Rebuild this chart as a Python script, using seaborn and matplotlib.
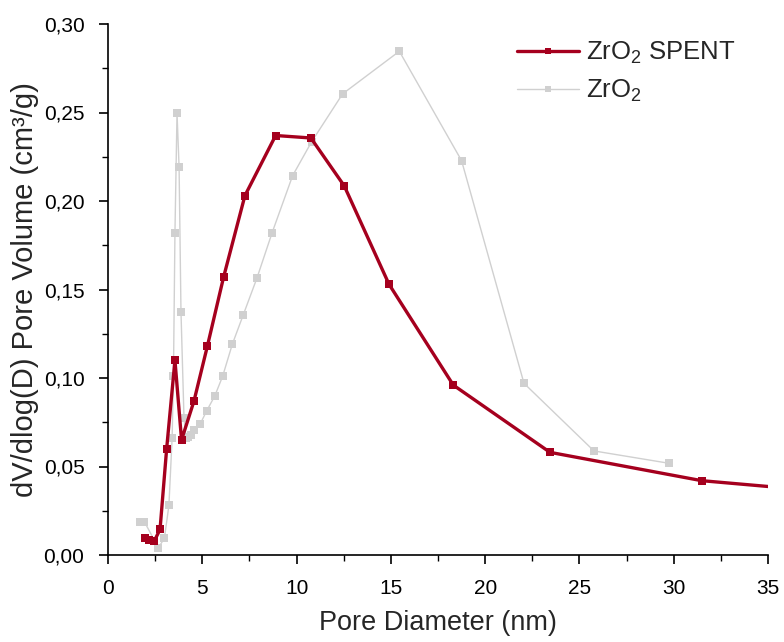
import matplotlib
matplotlib.use("Agg")
import matplotlib.pyplot as plt
import seaborn as sns
import pandas as pd
from matplotlib.ticker import MultipleLocator, FuncFormatter

# --- data ---
spent_d = [1.96, 2.2, 2.45, 2.76, 3.11, 3.55, 3.9, 4.56, 5.27, 6.13, 7.26, 8.89,
           10.76, 12.53, 14.9, 18.31, 23.44, 31.48, 39.5]
spent_v = [0.0095, 0.0085, 0.0078, 0.0145, 0.060, 0.110, 0.065, 0.087, 0.118, 0.157,
           0.203, 0.237, 0.2356, 0.2085, 0.153, 0.096, 0.058, 0.042, 0.0345]

fresh_d = [1.70, 1.93, 2.67, 2.99, 3.23, 3.40, 3.47, 3.55, 3.66, 3.77, 3.87, 4.03,
           4.14, 4.26, 4.42, 4.58, 4.88, 5.23, 5.66, 6.08, 6.59, 7.17, 7.9, 8.7,
           9.79, 10.8, 12.44, 15.45, 18.75, 22.06, 25.77, 29.76]
fresh_v = [0.0185, 0.0188, 0.0041, 0.0094, 0.028, 0.066, 0.101, 0.1817, 0.2498, 0.219,
           0.1375, 0.0775, 0.066, 0.0665, 0.068, 0.0705, 0.0738, 0.0814, 0.0898, 0.101,
           0.119, 0.1356, 0.1565, 0.182, 0.2143, 0.2335, 0.2605, 0.2846, 0.2228, 0.097,
           0.0588, 0.0518]

series_names = [r"ZrO$_2$ SPENT", r"ZrO$_2$"]
x_ticks = [0, 5, 10, 15, 20, 25, 30, 35]
y_ticks = [0.00, 0.05, 0.10, 0.15, 0.20, 0.25, 0.30]

sns.set_style("ticks")
plt.rcParams["font.family"] = ["Liberation Sans", "DejaVu Sans"]
plt.rcParams["mathtext.default"] = "regular"

fig = plt.figure(figsize=(7.84, 6.42), dpi=100)
ax = fig.add_axes([108 / 784, 87 / 642, 660 / 784, 531 / 642])

df_s = pd.DataFrame({"D": spent_d, "V": spent_v})
df_f = pd.DataFrame({"D": fresh_d, "V": fresh_v})

sns.lineplot(data=df_f, x="D", y="V", ax=ax, color="#d0d0d0", lw=1.0,
             marker="s", markersize=5.5, markeredgewidth=0, sort=False,
             label=series_names[1], zorder=2)
sns.lineplot(data=df_s, x="D", y="V", ax=ax, color="#a5001e", lw=2.4,
             marker="s", markersize=5.2, markeredgewidth=0, sort=False,
             label=series_names[0], zorder=3)

ax.set_xlim(0, 35)
ax.set_ylim(0, 0.30)
ax.set_xticks(x_ticks)
ax.set_yticks(y_ticks)
ax.xaxis.set_minor_locator(MultipleLocator(2.5))
ax.yaxis.set_minor_locator(MultipleLocator(0.025))
ax.xaxis.set_major_formatter(FuncFormatter(lambda v, p: f"{v:g}"))
ax.yaxis.set_major_formatter(FuncFormatter(lambda v, p: f"{v:.2f}".replace(".", ",")))

for s in ["top", "right"]:
    ax.spines[s].set_visible(False)
for s in ["left", "bottom"]:
    ax.spines[s].set_linewidth(1.2)
    ax.spines[s].set_color("black")
ax.tick_params(which="major", direction="out", length=6.5, width=1.2, labelsize=15,
               colors="black", pad=10.5)
ax.tick_params(which="minor", direction="out", length=4, width=1.0, colors="black")

ax.set_xlabel("Pore Diameter (nm)", fontsize=19.5, labelpad=9)
ax.set_ylabel("dV/dlog(D) Pore Volume (cm³/g)", fontsize=21, labelpad=3)

handles, labels = ax.get_legend_handles_labels()
order = [labels.index(series_names[0]), labels.index(series_names[1])]
ax.legend([handles[i] for i in order], [labels[i] for i in order],
          loc="upper left", bbox_to_anchor=(0.62, 0.97), frameon=False,
          borderaxespad=0, borderpad=0,
          fontsize=18.5, handlelength=2.4, handletextpad=0.27, labelspacing=0.45,
          markerscale=0.8)

fig.savefig("out.png", dpi=100)
